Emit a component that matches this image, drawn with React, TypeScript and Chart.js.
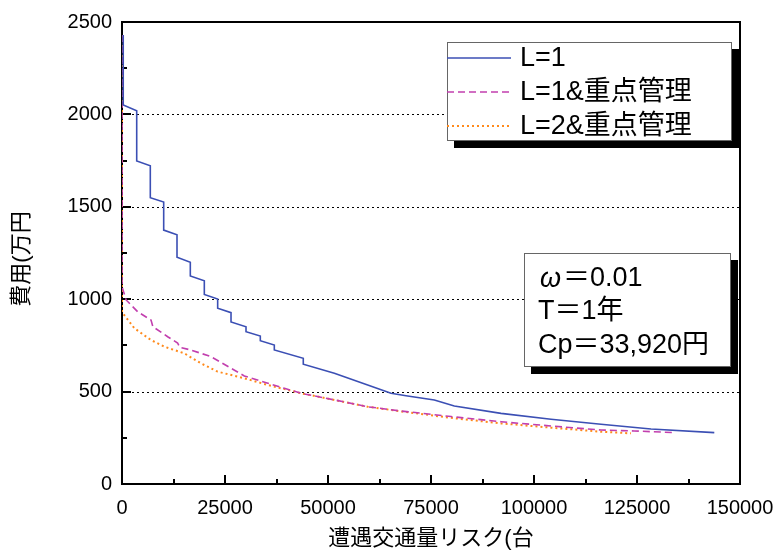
import React, { useEffect, useRef } from 'react';
import { Chart, registerables } from 'chart.js';

Chart.register(...registerables);

const FONT = '"Liberation Sans", "Noto Sans CJK JP", Arial, sans-serif';

// L=1 (stepped cost curve)
const l1X = [300, 300, 3570, 3570, 6870, 6870, 10120, 10120, 13350, 13350, 16580, 16580, 19980, 19980, 23220, 23220, 26460, 26460, 30100, 30100, 33570, 33570, 36970, 36970, 44000, 44000, 51540, 59630, 65290, 68930, 75810, 80660, 92000, 104130, 116260, 128400, 143760];
const l1Y = [2430, 2051, 2020, 1748, 1722, 1549, 1526, 1374, 1349, 1227, 1200, 1126, 1100, 1026, 1001, 951, 927, 877, 851, 824, 801, 775, 752, 725, 680, 648, 599, 536, 491, 478, 455, 422, 382, 350, 323, 298, 278];

// L=1 with focused management
const l1mX = [0, 0, 1000, 3800, 7040, 7500, 11090, 13500, 14000, 16750, 21600, 29690, 35000, 39400, 43450, 51540, 59630, 67720, 79850, 92000, 104130, 116260, 124300, 134050];
const l1mY = [2430, 1068, 996, 932, 887, 851, 797, 763, 740, 725, 689, 585, 548, 518, 491, 455, 418, 395, 365, 337, 314, 292, 287, 278];

// L=2 with focused management
const l2mX = [0, 0, 3000, 7040, 10270, 15110, 19170, 23220, 29690, 35350, 43450, 51540, 59630, 67720, 79850, 92000, 104130, 116260, 123550];
const l2mY = [2430, 930, 843, 779, 743, 707, 653, 608, 572, 536, 491, 455, 418, 393, 358, 328, 305, 283, 274];

const seriesLabels = ['L=1', 'L=1&重点管理', 'L=2&重点管理'];
const seriesColors = ['#3b4fb4', '#c23fae', '#ff8a1c'];
const seriesDash: number[][] = [[], [7, 4], [2, 3]];
const seriesWidth = [1.6, 1.6, 2];

const xMax = 150000;
const yMax = 2500;
const xMajor = 25000;
const yMajor = 500;

const noteLines = ['＝0.01', 'T＝1年', 'Cp＝33,920円'];
const xTitle = '遭遇交通量リスク(台';
const yTitle = '費用(万円';

const toPoints = (xs: number[], ys: number[]) => xs.map((x, i) => ({ x, y: ys[i] }));

const framePlugin = {
  id: 'frame',
  beforeDatasetsDraw(chart: any) {
    const { ctx, chartArea: a, scales } = chart;
    const xs = scales.x;
    const ys = scales.y;
    ctx.save();
    // dotted horizontal grid lines
    ctx.strokeStyle = '#000';
    ctx.lineWidth = 1;
    ctx.setLineDash([2, 3]);
    for (let v = yMajor; v < yMax; v += yMajor) {
      const py = Math.round(ys.getPixelForValue(v)) + 0.5;
      ctx.beginPath();
      ctx.moveTo(a.left, py);
      ctx.lineTo(a.right, py);
      ctx.stroke();
    }
    ctx.setLineDash([]);
    // inward tick marks
    ctx.lineWidth = 2;
    for (let v = 0; v <= xMax; v += xMajor / 2) {
      const px = Math.round(xs.getPixelForValue(v));
      const len = v % xMajor === 0 ? 9 : 5;
      ctx.beginPath();
      ctx.moveTo(px, a.bottom);
      ctx.lineTo(px, a.bottom - len);
      ctx.stroke();
    }
    for (let v = 0; v <= yMax; v += yMajor / 2) {
      const py = Math.round(ys.getPixelForValue(v));
      const len = v % yMajor === 0 ? 9 : 5;
      ctx.beginPath();
      ctx.moveTo(a.left, py);
      ctx.lineTo(a.left + len, py);
      ctx.stroke();
    }
    // plot frame
    ctx.lineWidth = 2;
    ctx.strokeRect(a.left, a.top, a.right - a.left, a.bottom - a.top);
    ctx.restore();
  },
  afterDraw(chart: any) {
    const { ctx, chartArea: a } = chart;
    ctx.save();
    ctx.fillStyle = '#000';

    // axis titles
    ctx.font = `22px ${FONT}`;
    ctx.textAlign = 'center';
    ctx.textBaseline = 'middle';
    ctx.fillText(xTitle, (a.left + a.right) / 2, 539);
    ctx.save();
    ctx.translate(22, 259);
    ctx.rotate(-Math.PI / 2);
    ctx.fillText(yTitle, 0, 0);
    ctx.restore();

    // legend box with drop shadow
    const lx = 447, ly = 42, lw = 285, lh = 99, sh = 7;
    ctx.fillStyle = '#000';
    ctx.fillRect(lx + sh, ly + sh, lw, lh);
    ctx.fillStyle = '#fff';
    ctx.fillRect(lx, ly, lw, lh);
    ctx.strokeStyle = '#666';
    ctx.lineWidth = 1;
    ctx.strokeRect(lx + 0.5, ly + 0.5, lw - 1, lh - 1);
    ctx.font = `27px ${FONT}`;
    ctx.textAlign = 'left';
    ctx.textBaseline = 'middle';
    chart.data.datasets.forEach((ds: any, i: number) => {
      const cy = 58 + i * 34;
      ctx.strokeStyle = ds.borderColor;
      ctx.lineWidth = ds.borderWidth;
      ctx.setLineDash(ds.borderDash || []);
      ctx.beginPath();
      ctx.moveTo(lx, cy);
      ctx.lineTo(511, cy);
      ctx.stroke();
      ctx.setLineDash([]);
      ctx.fillStyle = '#000';
      ctx.fillText(ds.label, 520, cy + 1);
    });

    // parameter note box with drop shadow
    const nx = 524, ny = 253, nw = 207, nh = 114;
    ctx.fillStyle = '#000';
    ctx.fillRect(nx + sh, ny + sh, nw, nh);
    ctx.fillStyle = '#fff';
    ctx.fillRect(nx, ny, nw, nh);
    ctx.strokeStyle = '#666';
    ctx.lineWidth = 1;
    ctx.strokeRect(nx + 0.5, ny + 0.5, nw - 1, nh - 1);
    ctx.fillStyle = '#000';
    ctx.font = `italic 27px ${FONT}`;
    ctx.fillText('ω', 540, 279);
    const ow = ctx.measureText('ω').width;
    ctx.font = `27px ${FONT}`;
    ctx.fillText(noteLines[0], 540 + ow + 2, 279);
    ctx.fillText(noteLines[1], 538, 312);
    ctx.fillText(noteLines[2], 538, 346);
    ctx.restore();
  },
};

export default function App() {
  const ref = useRef<HTMLCanvasElement | null>(null);

  useEffect(() => {
    if (!ref.current) return;
    const chart = new Chart(ref.current, {
      type: 'line',
      data: {
        datasets: [
          { label: seriesLabels[0], data: toPoints(l1X, l1Y) },
          { label: seriesLabels[1], data: toPoints(l1mX, l1mY) },
          { label: seriesLabels[2], data: toPoints(l2mX, l2mY) },
        ].map((d, i) => ({
          ...d,
          borderColor: seriesColors[i],
          backgroundColor: seriesColors[i],
          borderWidth: seriesWidth[i],
          borderDash: seriesDash[i],
          pointRadius: 0,
          tension: 0,
          fill: false,
        })),
      },
      options: {
        responsive: false,
        animation: false,
        devicePixelRatio: 1,
        layout: { padding: { top: 22, right: 38, left: 0, bottom: 0 } },
        plugins: { legend: { display: false }, tooltip: { enabled: false } },
        scales: {
          x: {
            type: 'linear',
            min: 0,
            max: xMax,
            afterFit: (s: any) => {
              s.height = 66;
              s.paddingLeft = 0;
              s.paddingRight = 0;
            },
            ticks: {
              stepSize: xMajor,
              autoSkip: false,
              maxRotation: 0,
              padding: 12,
              color: '#000',
              font: { family: FONT, size: 20 },
              callback: (v: any) => String(v),
            },
            grid: { display: false, drawTicks: false },
            border: { display: false },
          },
          y: {
            type: 'linear',
            min: 0,
            max: yMax,
            afterFit: (s: any) => {
              s.width = 122;
              s.paddingTop = 0;
              s.paddingBottom = 0;
            },
            ticks: {
              stepSize: yMajor,
              autoSkip: false,
              padding: 10,
              color: '#000',
              font: { family: FONT, size: 20 },
              callback: (v: any) => String(v),
            },
            grid: { display: false, drawTicks: false },
            border: { display: false },
          },
        },
      } as any,
      plugins: [framePlugin],
    });
    return () => chart.destroy();
  }, []);

  return (
    <div style={{ position: 'absolute', left: 0, top: 0, width: 778, height: 550, background: '#fff' }}>
      <canvas ref={ref} width={778} height={550} style={{ display: 'block' }} />
    </div>
  );
}
